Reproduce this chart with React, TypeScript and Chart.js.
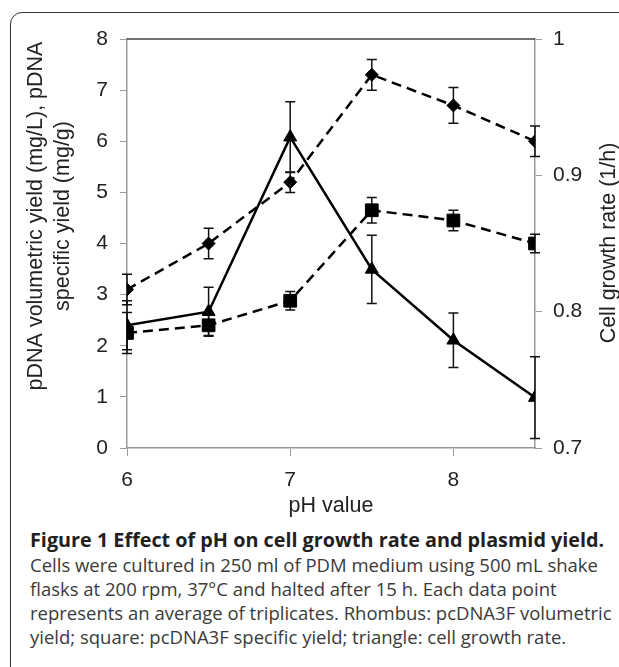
import React, { useEffect, useRef } from "react";
import { Chart, registerables } from "chart.js";

Chart.register(...registerables);

// ---- data ----
const phValues = [6, 6.5, 7, 7.5, 8, 8.5];
const volumetricYield = [3.1, 4.0, 5.2, 7.3, 6.7, 6.0];
const volumetricErr = [0.3, 0.3, 0.2, 0.3, 0.35, 0.3];
const specificYield = [2.25, 2.4, 2.88, 4.65, 4.45, 4.0];
const specificErr = [0.4, 0.2, 0.18, 0.25, 0.2, 0.18];
const growthRate = [0.79, 0.8, 0.928, 0.831, 0.779, 0.737];
const growthErr = [0.018, 0.018, 0.026, 0.025, 0.02, 0.03];

const xTicks = [6, 7, 8];
const leftTicks = [0, 1, 2, 3, 4, 5, 6, 7, 8];
const rightTicks = [0.7, 0.8, 0.9, 1];

const leftTitle1 = "pDNA volumetric yield (mg/L), pDNA";
const leftTitle2 = "specific yield (mg/g)";
const rightTitle = "Cell growth rate (1/h)";
const xTitle = "pH value";

const captionLines = [
  "Cells were cultured in 250 ml of PDM medium using 500 mL shake",
  "flasks at 200 rpm, 37°C and halted after 15 h. Each data point",
  "represents an average of triplicates. Rhombus: pcDNA3F volumetric",
  "yield; square: pcDNA3F specific yield; triangle: cell growth rate.",
];
const captionTitle = "Figure 1 Effect of pH on cell growth rate and plasmid yield.";

const FONT = "'Liberation Sans', Arial, sans-serif";
const TEXT = "#222";
const AXIS = "#999";

const errorBarPlugin = {
  id: "errorBars",
  beforeDatasetsDraw(chart: any) {
    const ctx = chart.ctx;
    const xs = chart.scales.x;
    chart.data.datasets.forEach((ds: any) => {
      const errs: number[] = ds.errors;
      if (!errs) return;
      const ys = chart.scales[ds.yAxisID];
      ctx.save();
      ctx.strokeStyle = "#111";
      ctx.lineWidth = 1.5;
      ds.data.forEach((pt: any, i: number) => {
        const px = xs.getPixelForValue(pt.x);
        const top = ys.getPixelForValue(pt.y + errs[i]);
        const bot = ys.getPixelForValue(pt.y - errs[i]);
        ctx.beginPath();
        ctx.moveTo(px, top);
        ctx.lineTo(px, bot);
        ctx.moveTo(px - 5, top);
        ctx.lineTo(px + 5, top);
        ctx.moveTo(px - 5, bot);
        ctx.lineTo(px + 5, bot);
        ctx.stroke();
      });
      ctx.restore();
    });
  },
};

const decorPlugin = {
  id: "decor",
  afterDraw(chart: any) {
    const ctx = chart.ctx;
    const a = chart.chartArea;
    ctx.save();
    // top frame line
    ctx.strokeStyle = "#444";
    ctx.lineWidth = 1.5;
    ctx.beginPath();
    ctx.moveTo(a.left, a.top);
    ctx.lineTo(a.right, a.top);
    ctx.stroke();

    ctx.fillStyle = TEXT;
    ctx.font = `21.5px ${FONT}`;
    ctx.textAlign = "center";
    ctx.textBaseline = "middle";
    // left titles
    ctx.save();
    ctx.translate(36, 216);
    ctx.rotate(-Math.PI / 2);
    ctx.fillText(leftTitle1, 0, 0);
    ctx.restore();
    ctx.save();
    ctx.translate(63, 216);
    ctx.rotate(-Math.PI / 2);
    ctx.fillText(leftTitle2, 0, 0);
    ctx.restore();
    // right title
    ctx.save();
    ctx.translate(609, 243);
    ctx.rotate(-Math.PI / 2);
    ctx.fillText(rightTitle, 0, 0);
    ctx.restore();
    // x title
    ctx.fillText(xTitle, (a.left + a.right) / 2, 506);
    ctx.restore();
  },
};

function toPts(ys: number[]) {
  return phValues.map((x, i) => ({ x, y: ys[i] }));
}

export default function App() {
  const ref = useRef<HTMLCanvasElement | null>(null);

  useEffect(() => {
    if (!ref.current) return;
    const tickFont = { family: FONT, size: 21 };
    const chart = new Chart(ref.current, {
      type: "line",
      data: {
        datasets: [
          {
            label: "volumetric",
            data: toPts(volumetricYield),
            errors: volumetricErr,
            yAxisID: "y",
            borderColor: "#000",
            borderWidth: 2.5,
            borderDash: [10, 6],
            pointStyle: "rectRot",
            pointRadius: 6.5,
            pointBackgroundColor: "#000",
            pointBorderColor: "#000",
            pointBorderWidth: 1,
            fill: false,
            tension: 0,
          } as any,
          {
            label: "specific",
            data: toPts(specificYield),
            errors: specificErr,
            yAxisID: "y",
            borderColor: "#000",
            borderWidth: 2.5,
            borderDash: [10, 6],
            pointStyle: "rect",
            pointRadius: 9,
            pointBackgroundColor: "#000",
            pointBorderColor: "#000",
            pointBorderWidth: 1,
            fill: false,
            tension: 0,
          } as any,
          {
            label: "growth",
            data: toPts(growthRate),
            errors: growthErr,
            yAxisID: "y1",
            borderColor: "#000",
            borderWidth: 2.5,
            pointStyle: "triangle",
            pointRadius: 7.5,
            pointBackgroundColor: "#000",
            pointBorderColor: "#000",
            pointBorderWidth: 1,
            fill: false,
            tension: 0,
          } as any,
        ],
      },
      options: {
        animation: false,
        responsive: false,
        devicePixelRatio: 1,
        layout: { padding: { top: 39, left: 0, right: 0, bottom: 0 } },
        plugins: {
          legend: { display: false },
          tooltip: { enabled: false },
          title: { display: false },
        },
        scales: {
          x: {
            type: "linear",
            min: 6,
            max: 8.5,
            afterBuildTicks: (s: any) => {
              s.ticks = xTicks.map((v) => ({ value: v }));
            },
            afterFit: (s: any) => {
              s.height = 72;
            },
            ticks: { font: tickFont, color: TEXT, padding: 12, maxRotation: 0, autoSkip: false },
            grid: { drawOnChartArea: false, drawTicks: true, tickLength: 8, color: AXIS },
            border: { display: true, color: AXIS, width: 1.5 },
          },
          y: {
            type: "linear",
            position: "left",
            min: 0,
            max: 8,
            afterBuildTicks: (s: any) => {
              s.ticks = leftTicks.map((v) => ({ value: v }));
            },
            afterFit: (s: any) => {
              s.width = 127;
            },
            ticks: { font: tickFont, color: TEXT, padding: 12 },
            grid: { drawOnChartArea: false, drawTicks: true, tickLength: 7, color: AXIS },
            border: { display: true, color: AXIS, width: 1.5 },
          },
          y1: {
            type: "linear",
            position: "right",
            min: 0.7,
            max: 1,
            afterBuildTicks: (s: any) => {
              s.ticks = rightTicks.map((v) => ({ value: v }));
            },
            afterFit: (s: any) => {
              s.width = 84;
            },
            ticks: {
              font: tickFont,
              color: TEXT,
              padding: 11,
              callback: (v: any) => String(Math.round(Number(v) * 10) / 10),
            },
            grid: { drawOnChartArea: false, drawTicks: true, tickLength: 7, color: AXIS },
            border: { display: true, color: AXIS, width: 1.5 },
          },
        },
      } as any,
      plugins: [errorBarPlugin, decorPlugin],
    });
    return () => chart.destroy();
  }, []);

  const capStyle: React.CSSProperties = {
    position: "absolute",
    left: 30,
    whiteSpace: "nowrap",
    fontFamily: "'Open Sans', sans-serif",
    fontSize: 18.5,
    lineHeight: "24px",
    color: "#3a3a3a",
  };

  return (
    <div
      style={{
        position: "fixed",
        left: 0,
        top: 0,
        width: 619,
        height: 667,
        background: "#fff",
        overflow: "hidden",
      }}
    >
      <div
        style={{
          position: "absolute",
          left: 10,
          top: 12,
          width: 700,
          height: 720,
          border: "1.5px solid #333",
          borderRadius: 12,
          boxSizing: "border-box",
        }}
      />
      <canvas
        ref={ref}
        width={619}
        height={520}
        style={{ position: "absolute", left: 0, top: 0, width: 619, height: 520 }}
      />
      <div style={{ ...capStyle, top: 528, fontWeight: 700, fontSize: 19.8, color: "#231f20" }}>
        {captionTitle}
      </div>
      {captionLines.map((l, i) => (
        <div key={i} style={{ ...capStyle, top: 553 + i * 24 }}>
          {l}
        </div>
      ))}
    </div>
  );
}
